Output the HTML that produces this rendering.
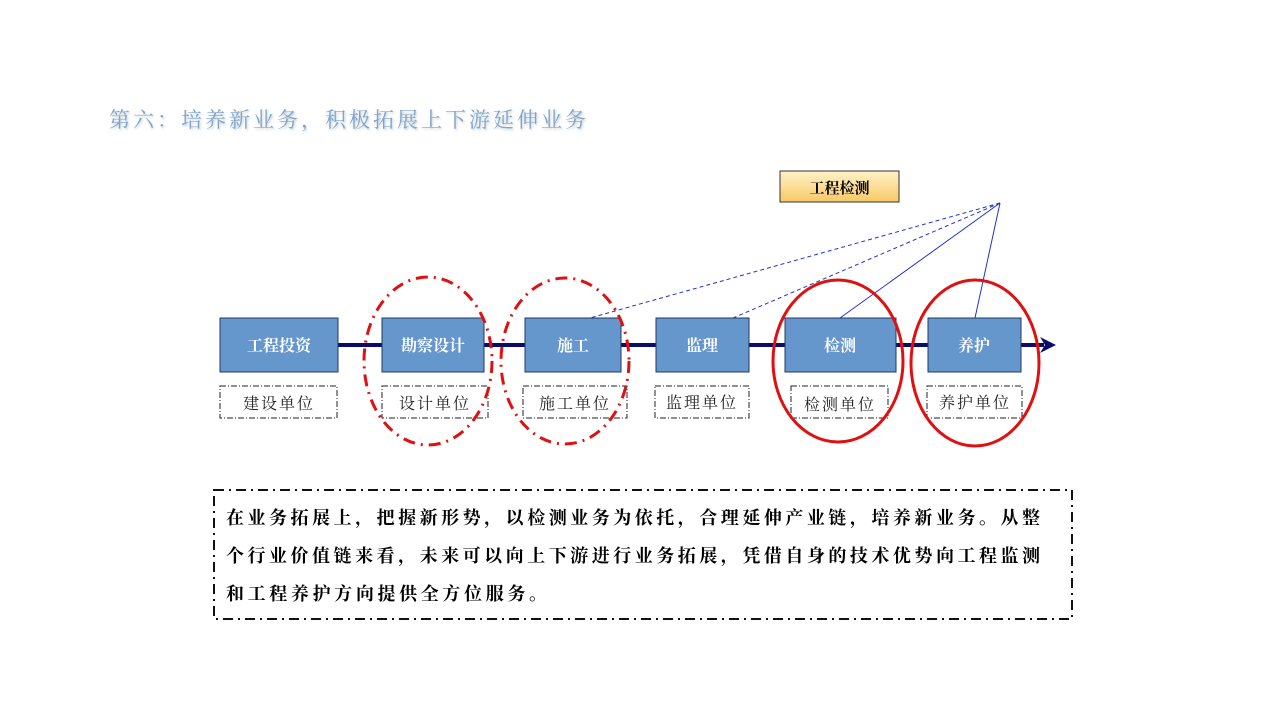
<!DOCTYPE html>
<html><head><meta charset="utf-8"><style>
html,body{margin:0;padding:0;background:#fff;}
svg{display:block;}
text{font-family:"Liberation Serif","Noto Serif CJK SC",serif;}
</style></head><body>
<svg width="1280" height="720" viewBox="0 0 1280 720" xmlns="http://www.w3.org/2000/svg">
<defs>
<linearGradient id="yg" x1="0" y1="0" x2="0" y2="1">
<stop offset="0" stop-color="#fff2c8"/><stop offset="1" stop-color="#f7c965"/>
</linearGradient>
<filter id="sh"><feDropShadow dx="1" dy="1.5" stdDeviation="1" flood-color="#9aa" flood-opacity="0.6"/></filter>
</defs>
<text x="109" y="127" font-size="21" fill="#7fa3cf" textLength="477" filter="url(#sh)">第六：培养新业务，积极拓展上下游延伸业务</text>

<!-- main line -->
<line x1="338" y1="345" x2="1044" y2="345" stroke="#0a0e6a" stroke-width="4"/>
<polygon points="1040,337 1056,345 1040,353 1045,345" fill="#0a0e6a"/>

<!-- connectors -->
<g stroke="#2233cc" stroke-width="1" fill="none">
<line x1="1000" y1="203" x2="590" y2="318" stroke-dasharray="4,3"/>
<line x1="1000" y1="203" x2="733" y2="318" stroke-dasharray="4,3"/>
<line x1="1000" y1="203" x2="840" y2="318"/>
<line x1="1000" y1="203" x2="975" y2="318"/>
</g>

<rect x="780" y="171" width="119" height="31" fill="url(#yg)" stroke="#333" stroke-width="1"/>
<text x="839.5" y="193" font-size="15" font-weight="bold" text-anchor="middle" fill="#000">工程检测</text>

<g fill="#6596cc" stroke="#1f3864" stroke-width="1">
<rect x="220" y="318" width="118" height="54"/>
<rect x="382" y="318" width="102" height="54"/>
<rect x="525" y="318" width="96" height="54"/>
<rect x="656" y="318" width="93" height="54"/>
<rect x="785" y="318" width="111" height="54"/>
<rect x="928" y="318" width="93" height="54"/>
</g>
<g font-size="16" font-weight="bold" fill="#fff" text-anchor="middle">
<text x="279" y="351">工程投资</text>
<text x="433" y="351">勘察设计</text>
<text x="573" y="351">施工</text>
<text x="702" y="351">监理</text>
<text x="840" y="351">检测</text>
<text x="974" y="351">养护</text>
</g>

<g fill="none" stroke="#222" stroke-width="1" stroke-dasharray="6,2,1,2">
<rect x="220" y="386" width="117" height="32"/>
<rect x="382" y="386" width="106" height="32"/>
<rect x="523" y="386" width="104" height="32"/>
<rect x="655" y="386" width="94" height="32"/>
<rect x="791" y="386" width="97" height="32"/>
<rect x="927" y="386" width="95" height="32"/>
</g>
<g font-size="16" fill="#222" text-anchor="middle" letter-spacing="2">
<text x="279" y="409">建设单位</text>
<text x="435" y="409">设计单位</text>
<text x="575" y="409">施工单位</text>
<text x="702" y="408">监理单位</text>
<text x="840" y="410">检测单位</text>
<text x="975" y="408">养护单位</text>
</g>

<g fill="none" stroke="#e01010" stroke-width="3">
<ellipse cx="428" cy="361" rx="64" ry="84" stroke-dasharray="12,6,2,6"/>
<ellipse cx="565" cy="361" rx="64" ry="83" stroke-dasharray="12,6,2,6"/>
<ellipse cx="838" cy="361" rx="65" ry="81"/>
<ellipse cx="975" cy="363" rx="64" ry="83"/>
</g>

<rect x="214" y="490" width="858" height="129" fill="none" stroke="#111" stroke-width="2" stroke-dasharray="10,5,2,5"/>
<g font-size="18" font-weight="bold" fill="#000">
<text x="226" y="524" textLength="814">在业务拓展上，把握新形势，以检测业务为依托，合理延伸产业链，培养新业务。从整</text>
<text x="226" y="562" textLength="814">个行业价值链来看，未来可以向上下游进行业务拓展，凭借自身的技术优势向工程监测</text>
<text x="226" y="600" textLength="321">和工程养护方向提供全方位服务。</text>
</g>
</svg>
</body></html>
